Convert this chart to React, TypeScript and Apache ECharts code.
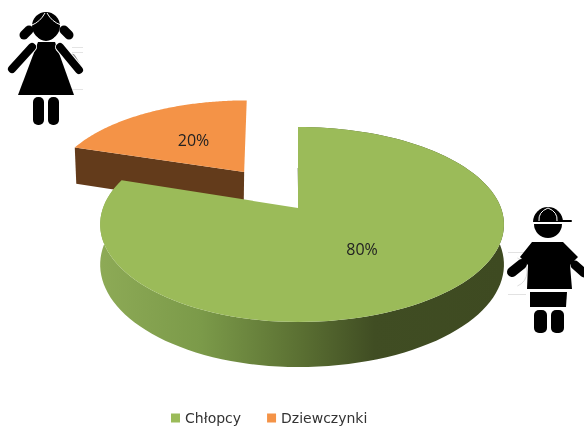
import React, { useEffect, useRef } from "react";
import * as echarts from "echarts";

const categories = ["Chłopcy", "Dziewczynki"];
const shares = [80, 20];
const labels = ["80%", "20%"];
const explode = [0, 0.502];
const lean = [0, -5];
const widen = [1, 1.03];
const topColors = ["#9BBB59", "#F49347"];

// Projection of the pie's disc on the page (Excel-like perspective)
const CX = 298, CY = 208, AR = 203, AL = 195, B = 94.7, K = 0.169;
const project = (u: number, v: number): [number, number] => {
  const d = 1 + K * v;
  return [CX + ((u >= 0 ? AR : AL) * u) / d, CY - (B * v) / d];
};
const depthAt = (v: number) => 39.3 / Math.pow(1 + K * v, 0.75);

function sliceGeometry(index: number) {
  let start = 0;
  for (let i = 0; i < index; i++) start += shares[i];
  const a0 = (start / 100) * Math.PI * 2;
  const a1 = ((start + shares[index]) / 100) * Math.PI * 2;
  const mid = (a0 + a1) / 2;
  const ou = Math.sin(mid) * explode[index];
  const ov = Math.cos(mid) * explode[index];
  const apex = project(ou, ov);
  const place = (u: number, v: number): [number, number] => {
    const [x, y] = project(u, v);
    return [apex[0] + (x - apex[0]) * widen[index] + lean[index] * (v - ov), y];
  };
  const arc: { u: number; v: number }[] = [];
  const steps = 120;
  for (let i = 0; i <= steps; i++) {
    const a = a0 + ((a1 - a0) * i) / steps;
    arc.push({ u: ou + Math.sin(a), v: ov + Math.cos(a) });
  }
  return { ou, ov, mid, arc, apex, place };
}

const renderSlice = (index: number) => () => {
  const { ou, ov, mid, arc, apex, place } = sliceGeometry(index);
  const top = arc.map((p) => place(p.u, p.v));
  const children: any[] = [];
  if (index === 0) {
    const bottom = arc.map((p) => {
      const [x, y] = place(p.u, p.v);
      return [x, y + depthAt(p.v)];
    });
    children.push({
      type: "polygon",
      shape: { points: [...top, ...bottom.reverse()] },
      style: {
        fill: {
          type: "linear", x: 0, y: 0, x2: 1, y2: 0,
          colorStops: [
            { offset: 0, color: "#8DAA56" },
            { offset: 0.25, color: "#7B9A49" },
            { offset: 0.5, color: "#5A6F32" },
            { offset: 0.68, color: "#404D23" },
            { offset: 1, color: "#3E4A21" },
          ],
        },
      },
    });
    // cut face seen edge-on, next to the slice's straight edge
    children.push({
      type: "line",
      shape: { x1: apex[0] + 0.8, y1: apex[1], x2: apex[0] + 0.2, y2: apex[1] - 40 },
      style: { stroke: "#4A5A2A", lineWidth: 1 },
    });
  } else {
    const first = arc[0];
    const l = place(first.u, first.v);
    const dl = depthAt(first.v);
    const da = depthAt(ov);
    children.push({
      type: "polygon",
      shape: { points: [l, apex, [apex[0] - 0.5, apex[1] + da], [l[0] + 1.5, l[1] + dl]] },
      style: { fill: "#633B1B" },
    });
  }
  children.push({
    type: "polygon",
    shape: { points: [apex, ...top] },
    style: { fill: topColors[index] },
  });
  const lp = place(ou + 0.5 * Math.sin(mid), ov + 0.5 * Math.cos(mid));
  children.push({
    type: "text",
    x: lp[0],
    y: lp[1],
    style: {
      text: labels[index],
      fill: "#222222",
      font: "16px 'Open Sans'",
      align: "center",
      verticalAlign: "middle",
    },
  });
  return { type: "group", children };
};

const black = { fill: "#000000" };
const limb = (x1: number, y1: number, x2: number, y2: number, w: number, color = "#000000") => ({
  type: "line",
  shape: { x1, y1, x2, y2 },
  style: { stroke: color, lineWidth: w, lineCap: "round" },
});
const hair = (x1: number, y1: number, cx: number, cy: number, x2: number, y2: number) => ({
  type: "bezierCurve",
  shape: { x1, y1, cpx1: cx, cpy1: cy, x2, y2 },
  style: { stroke: "#FFFFFF", lineWidth: 1, fill: "none" },
});
const poly = (points: number[][], fill = "#000000") => ({
  type: "polygon",
  shape: { points },
  style: { fill },
});
const bar = (x: number, y: number, width: number, height: number, r: number, color = "#000000") => ({
  type: "rect",
  shape: { x, y, width, height, r },
  style: { fill: color },
});

const girl: any[] = [
  bar(72, 47, 11, 1, 0, "#E4E4E4"),
  bar(72, 52, 11, 1, 0, "#E4E4E4"),
  bar(72, 89, 11, 1, 0, "#E4E4E4"),
  limb(72, 58, 78, 68, 8, "#8A8A8A"),
  limb(24, 35, 29, 30, 9),
  limb(69, 35, 64, 30, 9),
  { type: "ellipse", shape: { cx: 46, cy: 26, rx: 14, ry: 14 }, style: black },
  hair(45, 13, 40, 22, 32, 25),
  hair(47, 13, 52, 22, 61, 25),
  { type: "circle", shape: { cx: 46, cy: 30, r: 11 }, style: black },
  poly([[38, 42], [55, 42], [74, 95], [18, 95]]),
  limb(32, 47, 12, 69, 10, "#FFFFFF"),
  limb(60, 47, 79, 70, 10, "#FFFFFF"),
  limb(32, 47, 12, 69, 8),
  limb(60, 47, 79, 70, 8),
  bar(33, 97, 11, 28, 5),
  bar(48, 97, 11, 28, 5),
];

const boy: any[] = [
  bar(508, 252, 18, 1, 0, "#E2E2E2"),
  bar(508, 294, 18, 1, 0, "#E2E2E2"),
  { type: "arc", shape: { cx: 512, cy: 272, r: 15, startAngle: -1.2, endAngle: 1.2 }, style: { stroke: "#DDDDDD", lineWidth: 1, fill: "none" } },
  { type: "sector", shape: { cx: 548, cy: 222, r: 15, r0: 0, startAngle: Math.PI, endAngle: Math.PI * 2 }, style: black },
  bar(560, 220, 12, 2, 1),
  hair(548, 208, 538, 212, 539, 221),
  hair(548, 208, 558, 212, 557, 221),
  { type: "sector", shape: { cx: 548, cy: 224, r: 14, r0: 0, startAngle: 0, endAngle: Math.PI }, style: black },
  poly([[532, 242], [563, 242], [578, 257], [570, 265], [572, 289], [527, 289], [528, 265], [520, 257]]),
  limb(512, 272, 522, 264, 10),
  limb(575, 265, 584, 273, 9),
  poly([[530, 292], [567, 292], [566, 307], [530, 307]]),
  bar(534, 310, 13, 23, 5),
  bar(551, 310, 13, 23, 5),
];

export default function App() {
  const ref = useRef<HTMLDivElement>(null);
  useEffect(() => {
    const chart = echarts.init(ref.current!, null, { renderer: "svg" });
    chart.setOption({
      animation: false,
      backgroundColor: "#FFFFFF",
      legend: {
        data: categories,
        left: 171,
        top: 411,
        icon: "rect",
        itemWidth: 9,
        itemHeight: 9,
        itemGap: 26,
        padding: 0,
        textStyle: { fontFamily: "'DejaVu Sans'", fontSize: 14, lineHeight: 14, color: "#333333" },
      },
      graphic: [
        { type: "group", children: girl, silent: true },
        { type: "group", children: boy, silent: true },
      ],
      series: categories.map((name, i) => ({
        type: "custom",
        name,
        coordinateSystem: "none",
        z: 2 - i,
        itemStyle: { color: topColors[i] },
        data: [shares[i]],
        renderItem: renderSlice(i),
      })),
    });
    return () => chart.dispose();
  }, []);
  return <div ref={ref} style={{ position: "fixed", left: 0, top: 0, width: 584, height: 426, filter: "blur(0.4px)" }} />;
}
